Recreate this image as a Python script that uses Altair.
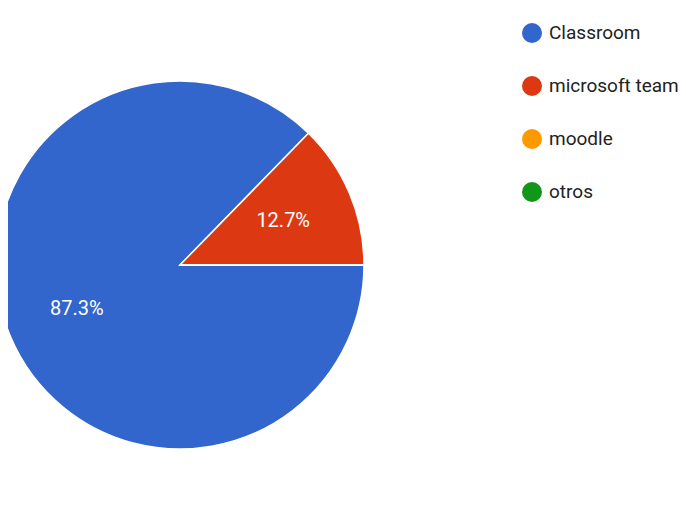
import math
import altair as alt
import pandas as pd

categories = ["Classroom", "microsoft team", "moodle", "otros"]
values = [87.3, 12.7, 0.0, 0.0]
labels = ["87.3%", "12.7%", "", ""]
colors = ["#3366cc", "#dc3912", "#ff9900", "#109618"]

df = pd.DataFrame({
    "cat": categories,
    "val": values,
    "lab": labels,
    "order": list(range(len(categories))),
})

start = math.pi / 2
theta_scale = alt.Scale(range=[start, start + 2 * math.pi])
color_scale = alt.Scale(domain=categories, range=colors)

cx, cy, R = 172, 257, 184

base = alt.Chart(df).encode(
    theta=alt.Theta("val:Q", stack=True, scale=theta_scale),
    order=alt.Order("order:Q"),
    x=alt.value(cx),
    y=alt.value(cy),
)

pie = base.mark_arc(radius=R, stroke="white", strokeWidth=1.5).encode(
    color=alt.Color(
        "cat:N",
        scale=color_scale,
        sort=categories,
        legend=alt.Legend(
            title=None,
            orient="none",
            legendX=514,
            legendY=15,
            symbolType="circle",
            symbolSize=400,
            symbolStrokeWidth=0,
            labelFontSize=19,
            labelFont="Roboto",
            labelColor="#222222",
            rowPadding=33,
            labelOffset=7,
            labelLimit=200,
        ),
    )
)

text = base.transform_filter("datum.val > 0").mark_text(
    radius=112, fontSize=20, font="Roboto", color="white"
).encode(text="lab:N")

chart = (pie + text).properties(
    width=670, height=495, padding=0,
).configure_view(stroke=None).properties(autosize=alt.AutoSizeParams(type="none"))

chart.save("out.html", embed_options={"renderer": "svg", "actions": False})
